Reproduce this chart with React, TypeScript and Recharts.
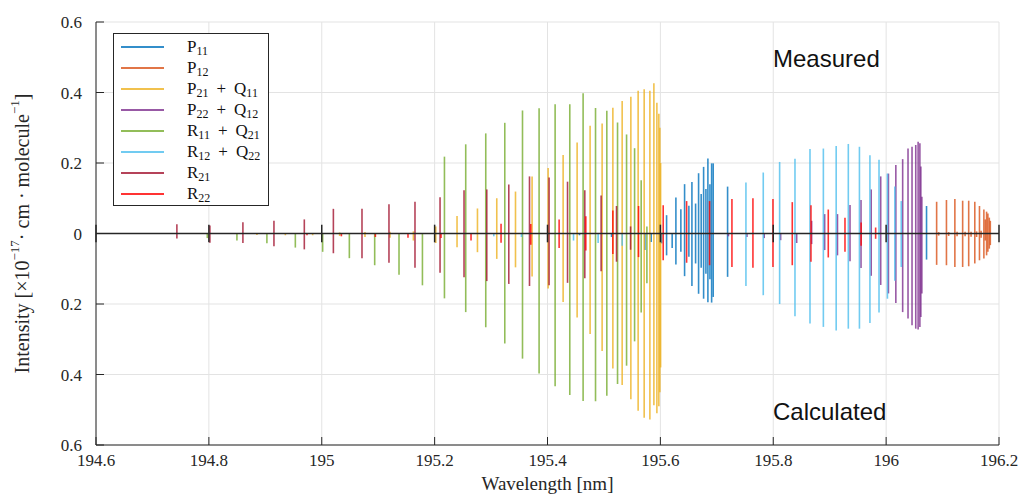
import React from "react";
import {
  ComposedChart,
  Scatter,
  ErrorBar,
  XAxis,
  YAxis,
  CartesianGrid,
  ReferenceLine,
} from "recharts";

// axis ticks
const xTicks = [194.6, 194.8, 195, 195.2, 195.4, 195.6, 195.8, 196, 196.2];
const yTicks = [-0.6, -0.4, -0.2, 0, 0.2, 0.4, 0.6];

// P11
const p11Wl = [195.4567, 195.5135, 195.5725, 195.5837, 195.6021, 195.611, 195.6209, 195.6275, 195.6363, 195.6429, 195.6505, 195.6559, 195.6624, 195.6677, 195.6723, 195.6766, 195.6807, 195.6842, 195.6878, 195.6908, 195.6936, 195.7191, 196.0716];
const p11Meas = [0, 0, 0, 0, 0, 0.052, 0, 0.102, 0.069, 0.14, 0.079, 0.146, 0.085, 0.171, 0.112, 0.189, 0.126, 0.213, 0.14, 0.199, 0.199, 0.133, 0.078];
const p11Calc = [0.005, 0.01, 0.047, 0.024, 0.028, 0.062, 0.041, 0.088, 0.052, 0.121, 0.066, 0.149, 0.085, 0.171, 0.097, 0.185, 0.114, 0.195, 0.13, 0.196, 0.18, 0.123, 0.074];

// P12
const p12Wl = [196.0895, 196.0931, 196.1069, 196.1108, 196.1218, 196.1257, 196.1356, 196.1399, 196.1463, 196.1505, 196.1571, 196.1603, 196.1654, 196.1683, 196.1732, 196.1757, 196.178, 196.1803, 196.1828, 196.1846];
const p12Meas = [0.09, 0.004, 0.095, 0.004, 0.098, 0.005, 0.093, 0.005, 0.093, 0.005, 0.09, 0.006, 0.078, 0.008, 0.068, 0.04, 0.062, 0.057, 0.045, 0.036];
const p12Calc = [0.089, 0.006, 0.09, 0.007, 0.095, 0.008, 0.095, 0.008, 0.093, 0.009, 0.085, 0.01, 0.076, 0.012, 0.071, 0.02, 0.062, 0.052, 0.043, 0.033];

// P21 + Q11
const p21Wl = [194.8851, 194.9355, 194.9839, 195.0317, 195.0766, 195.1209, 195.1624, 195.202, 195.2397, 195.2759, 195.3101, 195.3433, 195.3727, 195.4011, 195.4277, 195.4525, 195.4755, 195.4968, 195.5158, 195.5323, 195.5477, 195.5606, 195.5713, 195.5814, 195.5885, 195.5938, 195.5973, 195.5991, 195.6004];
const p21Meas = [0, 0, 0, 0.003, 0.004, 0.005, 0.006, 0.02, 0.05, 0.071, 0.1, 0.119, 0.162, 0.186, 0.223, 0.258, 0.306, 0.312, 0.357, 0.376, 0.388, 0.405, 0.409, 0.405, 0.426, 0.371, 0.34, 0.3, 0.2];
const p21Calc = [0.004, 0.005, 0.005, 0.007, 0.01, 0.012, 0.02, 0.027, 0.039, 0.053, 0.072, 0.096, 0.122, 0.156, 0.194, 0.238, 0.285, 0.333, 0.383, 0.43, 0.47, 0.503, 0.523, 0.528, 0.487, 0.51, 0.49, 0.45, 0.38];

// P22 + Q12
const p22Wl = [195.7206, 195.7534, 195.784, 195.8131, 195.8415, 195.868, 195.8911, 195.9138, 195.936, 195.9555, 195.9736, 195.9904, 196.0041, 196.0172, 196.0293, 196.0388, 196.0459, 196.0525, 196.0567, 196.0598, 196.0615, 196.0633];
const p22Meas = [0, 0, 0, 0, 0, 0.036, 0.055, 0.055, 0.081, 0.095, 0.125, 0.162, 0.17, 0.194, 0.211, 0.241, 0.246, 0.251, 0.26, 0.256, 0.19, 0.104];
const p22Calc = [0.008, 0.01, 0.013, 0.019, 0.027, 0.03, 0.047, 0.062, 0.079, 0.098, 0.12, 0.146, 0.17, 0.197, 0.223, 0.241, 0.26, 0.27, 0.272, 0.265, 0.237, 0.17];

// R11 + Q21
const r11Wl = [194.7972, 194.8497, 194.9028, 194.9532, 195.0016, 195.0489, 195.0938, 195.1369, 195.1784, 195.2174, 195.2551, 195.2906, 195.3243, 195.3557, 195.3851, 195.4135, 195.4395, 195.4631, 195.4851, 195.5051, 195.5241, 195.5401, 195.5543, 195.566, 195.5761];
const r11Meas = [0, 0, 0, 0, 0, 0, 0, 0, 0, 0.218, 0.253, 0.284, 0.314, 0.349, 0.355, 0.367, 0.367, 0.398, 0.356, 0.348, 0.315, 0.281, 0.242, 0.151, 0.02];
const r11Calc = [0.013, 0.02, 0.028, 0.04, 0.052, 0.07, 0.09, 0.117, 0.147, 0.184, 0.223, 0.266, 0.312, 0.355, 0.397, 0.433, 0.458, 0.475, 0.476, 0.46, 0.427, 0.375, 0.306, 0.224, 0.141];

// R12 + Q22
const r12Wl = [195.3048, 195.3539, 195.4461, 195.4897, 195.5323, 195.7516, 195.7823, 195.8113, 195.8385, 195.8651, 195.8888, 195.9115, 195.933, 195.9527, 195.9713, 195.9874, 196.0023, 196.0154, 196.0268];
const r12Meas = [0, 0, 0, 0, 0, 0.145, 0.173, 0.203, 0.212, 0.24, 0.241, 0.248, 0.254, 0.246, 0.222, 0.209, 0.17, 0.133, 0.092];
const r12Calc = [0.008, 0.01, 0.02, 0.027, 0.035, 0.149, 0.175, 0.2, 0.235, 0.255, 0.265, 0.275, 0.27, 0.27, 0.254, 0.224, 0.185, 0.134, 0.095];

// R21
const r21Wl = [194.7433, 194.8018, 194.8603, 194.9153, 194.9691, 195.0206, 195.0713, 195.1191, 195.1652, 195.2096, 195.2521, 195.2924, 195.3314, 195.3681, 195.4028, 195.4355, 195.4661, 195.495, 195.5223, 195.5472];
const r21Meas = [0.026, 0.023, 0.032, 0.036, 0.04, 0.07, 0.07, 0.083, 0.09, 0.103, 0.123, 0.125, 0.139, 0.162, 0.159, 0.147, 0.123, 0.108, 0.078, 0.02];
const r21Calc = [0.014, 0.026, 0.027, 0.036, 0.045, 0.056, 0.07, 0.083, 0.097, 0.111, 0.124, 0.135, 0.143, 0.149, 0.147, 0.14, 0.127, 0.107, 0.08, 0.046];

// R22
const r22Wl = [194.9738, 195.0348, 195.095, 195.1528, 195.2113, 195.2645, 195.3177, 195.3704, 195.4206, 195.4679, 195.5158, 195.5613, 195.605, 195.6465, 195.6872, 195.7268, 195.764, 195.7995, 195.8337, 195.8668, 195.8975, 195.9271, 195.9557, 195.9814];
const r22Meas = [0, 0, 0, 0, 0, 0, 0.028, 0.027, 0.04, 0.049, 0.065, 0.078, 0.08, 0.092, 0.092, 0.098, 0.1, 0.098, 0.089, 0.08, 0.068, 0.045, 0.031, 0.017];
const r22Calc = [0.005, 0.008, 0.01, 0.012, 0.013, 0.02, 0.026, 0.032, 0.041, 0.048, 0.058, 0.067, 0.076, 0.083, 0.09, 0.095, 0.097, 0.095, 0.09, 0.08, 0.068, 0.052, 0.035, 0.015];

const series = [
  { key: "p11", label: [["P", "11"]], color: "#0072BD", wl: p11Wl, meas: p11Meas, calc: p11Calc },
  { key: "p12", label: [["P", "12"]], color: "#D95319", wl: p12Wl, meas: p12Meas, calc: p12Calc },
  { key: "p21", label: [["P", "21"], ["Q", "11"]], color: "#EDB120", wl: p21Wl, meas: p21Meas, calc: p21Calc },
  { key: "p22", label: [["P", "22"], ["Q", "12"]], color: "#7E2F8E", wl: p22Wl, meas: p22Meas, calc: p22Calc },
  { key: "r11", label: [["R", "11"], ["Q", "21"]], color: "#77AC30", wl: r11Wl, meas: r11Meas, calc: r11Calc },
  { key: "r12", label: [["R", "12"], ["Q", "22"]], color: "#4DBEEE", wl: r12Wl, meas: r12Meas, calc: r12Calc },
  { key: "r21", label: [["R", "21"]], color: "#A2142F", wl: r21Wl, meas: r21Meas, calc: r21Calc },
  { key: "r22", label: [["R", "22"]], color: "#FF0000", wl: r22Wl, meas: r22Meas, calc: r22Calc },
];

const serif = "'Liberation Serif', 'DejaVu Serif', serif";
const axisColor = "#262626";

// each stick = error bar around y=0: [down (calculated), up (measured)]
const toRows = (s: any) =>
  s.wl.map((x: number, i: number) => ({ x, y: 0, err: [s.calc[i], s.meas[i]] }));

const noDot = () => <g />;

const YLabel = (props: any) => {
  const vb = props.viewBox || {};
  const cx = vb.x - 18;
  const cy = vb.y + vb.height / 2;
  return (
    <text
      x={cx}
      y={cy}
      transform={`rotate(-90, ${cx}, ${cy})`}
      textAnchor="middle"
      dominantBaseline="central"
      fontFamily={serif}
      fontSize={20}
      style={{ fill: axisColor }}
    >
      Intensity [×10
      <tspan dy={-8} fontSize={13}>−17</tspan>
      <tspan dy={8}>·  cm  ·  molecule</tspan>
      <tspan dy={-8} fontSize={13}>−1</tspan>
      <tspan dy={8}>]</tspan>
    </text>
  );
};

const LegendLabel = ({ parts }: { parts: string[][] }) => (
  <span>
    {parts.map((p, i) => (
      <span key={i}>
        {i > 0 && <span style={{ margin: "0 8px" }}>+</span>}
        {p[0]}
        <sub style={{ fontSize: 12, verticalAlign: "-3px" }}>{p[1]}</sub>
      </span>
    ))}
  </span>
);

export default function App() {
  return (
    <div style={{ position: "absolute", left: 0, top: 0, width: 1020, height: 496, background: "#fff" }}>
      <ComposedChart width={1020} height={496} margin={{ top: 22, right: 21, bottom: 21, left: 40 }}>
        <CartesianGrid stroke="#e3e3e3" strokeWidth={1} />
        <XAxis
          xAxisId={0}
          dataKey="x"
          type="number"
          domain={[194.6, 196.2]}
          ticks={xTicks}
          allowDataOverflow
          height={30}
          stroke={axisColor}
          tickSize={-8}
          tickMargin={17}
          tick={{ fontSize: 17, fontFamily: serif, fill: axisColor }}
          label={{ value: "Wavelength [nm]", position: "bottom", offset: 2, fontSize: 19, fontFamily: serif, fill: axisColor }}
        />
        <XAxis
          xAxisId="top"
          orientation="top"
          type="number"
          domain={[194.6, 196.2]}
          ticks={xTicks}
          allowDataOverflow
          height={0}
          stroke={axisColor}
          tickSize={-8}
          tickFormatter={() => ""}
        />
        <YAxis
          yAxisId={0}
          dataKey="y"
          type="number"
          domain={[-0.6, 0.6]}
          ticks={yTicks}
          allowDataOverflow
          width={56}
          stroke={axisColor}
          tickSize={-8}
          tickMargin={22}
          tickFormatter={(v: number) => String(Math.abs(v))}
          tick={{ fontSize: 17, fontFamily: serif, fill: axisColor }}
          label={<YLabel />}
        />
        <YAxis
          yAxisId="right"
          orientation="right"
          type="number"
          domain={[-0.6, 0.6]}
          ticks={yTicks}
          allowDataOverflow
          width={0}
          stroke={axisColor}
          tickSize={-8}
          tickFormatter={() => ""}
        />
        {series.map((s) => (
          <Scatter
            key={s.key}
            name={s.key}
            data={toRows(s)}
            dataKey="y"
            shape={noDot}
            isAnimationActive={false}
          >
            <ErrorBar
              dataKey="err"
              direction="y"
              width={0}
              stroke={s.color}
              strokeWidth={1.6}
              strokeOpacity={0.8}
              isAnimationActive={false}
            />
          </Scatter>
        ))}
        <ReferenceLine y={0} stroke={axisColor} strokeWidth={1.5} />
        {xTicks.map((t) => (
          <ReferenceLine
            key={t}
            segment={[{ x: t, y: -0.025 }, { x: t, y: 0.025 }]}
            stroke={axisColor}
            strokeWidth={1.5}
          />
        ))}
      </ComposedChart>

      <div style={{ position: "absolute", left: 773, top: 45, fontFamily: "'Liberation Sans', Arial, sans-serif", fontSize: 24, color: "#111" }}>
        Measured
      </div>
      <div style={{ position: "absolute", left: 773, top: 398, fontFamily: "'Liberation Sans', Arial, sans-serif", fontSize: 24, color: "#111" }}>
        Calculated
      </div>

      <div
        style={{
          position: "absolute",
          left: 113,
          top: 33,
          width: 154,
          height: 171,
          border: `1px solid ${axisColor}`,
          background: "#fff",
          fontFamily: serif,
          fontSize: 17,
          color: "#111",
        }}
      >
        {series.map((s, i) => (
          <div key={s.key} style={{ position: "absolute", left: 0, top: 2 + i * 21, height: 21, width: "100%" }}>
            <div style={{ position: "absolute", left: 7, top: 10, width: 43, height: 2, background: s.color, opacity: 0.8 }} />
            <div style={{ position: "absolute", left: 73, top: 0, lineHeight: "21px", whiteSpace: "nowrap" }}>
              <LegendLabel parts={s.label} />
            </div>
          </div>
        ))}
      </div>
    </div>
  );
}
